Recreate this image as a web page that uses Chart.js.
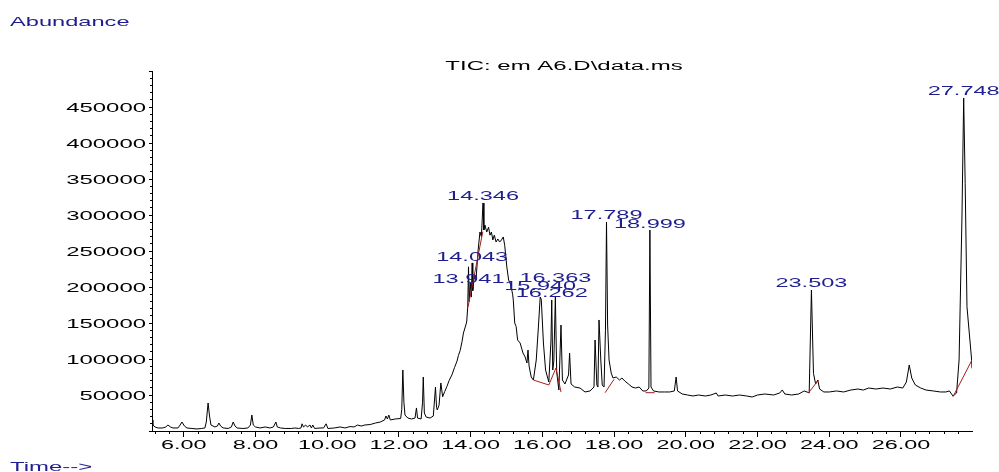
<!DOCTYPE html>
<html>
<head>
<meta charset="utf-8">
<title>TIC: em A6.D\data.ms</title>
<script src="https://cdn.jsdelivr.net/npm/chart.js@4.4.1/dist/chart.umd.min.js"></script>
<style>
  html, body { margin: 0; padding: 0; background: #fff; }
  canvas { display: block; }
</style>
</head>
<body>
<canvas id="tic" width="999" height="472"></canvas>
<script>
// ── DATA ───────────────────────────────────────
// retention time (min) / abundance
const traceTimes = [
  5.116, 5.14, 5.20, 5.28, 5.42, 5.50, 5.56, 5.63, 5.70, 5.84, 5.90, 5.95, 6.02, 6.09, 6.23, 6.37,
  6.50, 6.59, 6.63, 6.68, 6.72, 6.76, 6.87, 6.94, 6.98, 7.03, 7.10, 7.24, 7.33, 7.38, 7.43, 7.49,
  7.65, 7.79, 7.86, 7.90, 7.94, 8.00, 8.13, 8.27, 8.41, 8.50, 8.57, 8.61, 8.70, 8.83, 9.00, 9.10,
  9.20, 9.27, 9.30, 9.34, 9.40, 9.45, 9.52, 9.56, 9.60, 9.65, 9.80, 9.90, 9.97, 10.02, 10.20, 10.36,
  10.50, 10.64, 10.75, 10.85, 10.95, 11.05, 11.20, 11.35, 11.48, 11.60, 11.64, 11.68, 11.72, 11.76, 11.90, 12.05,
  12.08, 12.11, 12.14, 12.17, 12.25, 12.35, 12.45, 12.49, 12.52, 12.62, 12.66, 12.68, 12.71, 12.76, 12.87, 12.96,
  13.02, 13.05, 13.07, 13.12, 13.17, 13.22, 13.28, 13.34, 13.40, 13.48, 13.55, 13.62, 13.66, 13.71, 13.76, 13.80,
  13.85, 13.89, 13.92, 13.941, 13.96, 13.99, 14.02, 14.043, 14.06, 14.10, 14.15, 14.21, 14.26, 14.30, 14.346, 14.37,
  14.40, 14.45, 14.50, 14.54, 14.58, 14.62, 14.66, 14.71, 14.76, 14.81, 14.86, 14.91, 14.95, 15.01, 15.06, 15.12,
  15.17, 15.19, 15.23, 15.27, 15.31, 15.38, 15.46, 15.52, 15.57, 15.60, 15.63, 15.69, 15.75, 15.83, 15.89, 15.940,
  15.97, 16.03, 16.09, 16.18, 16.24, 16.262, 16.29, 16.32, 16.363, 16.40, 16.46, 16.52, 16.56, 16.63, 16.73, 16.76,
  16.80, 16.90, 17.05, 17.19, 17.33, 17.44, 17.47, 17.52, 17.55, 17.58, 17.63, 17.67, 17.72, 17.76, 17.789, 17.82,
  17.86, 17.92, 17.97, 18.06, 18.15, 18.22, 18.30, 18.40, 18.50, 18.60, 18.70, 18.80, 18.90, 18.97, 18.999, 19.03,
  19.10, 19.25, 19.40, 19.55, 19.68, 19.73, 19.77, 19.90, 20.05, 20.20, 20.35, 20.55, 20.70, 20.85, 20.90, 21.10,
  21.30, 21.50, 21.70, 21.85, 22.00, 22.20, 22.45, 22.62, 22.69, 22.76, 22.95, 23.15, 23.30, 23.38, 23.44, 23.503,
  23.56, 23.62, 23.68, 23.73, 23.85, 24.00, 24.20, 24.40, 24.60, 24.80, 24.95, 25.10, 25.30, 25.50, 25.70, 25.90,
  26.05, 26.15, 26.23, 26.30, 26.40, 26.55, 26.70, 26.90, 27.10, 27.25, 27.35, 27.45, 27.55, 27.62, 27.70, 27.748,
  27.79, 27.84, 27.97, 27.98
];
const traceAbund = [
  15300, 8300, 5600, 4200, 4200, 5600, 8300, 5600, 4200, 4200, 8300, 12500, 6900, 4200, 3500, 2800,
  3500, 4200, 12500, 38900, 20800, 8300, 5600, 6900, 11100, 6900, 4200, 3500, 5600, 12500, 6900, 4200,
  3500, 4200, 8300, 22200, 8300, 5600, 4200, 5600, 4200, 5600, 12500, 5600, 4200, 3500, 3500, 4200,
  3500, 4200, 10000, 5600, 8300, 5600, 8300, 4200, 8300, 3500, 4200, 4200, 10000, 3500, 4200, 5600,
  4200, 6200, 5600, 8300, 6900, 8300, 9000, 11100, 12500, 15300, 20800, 16700, 22200, 15300, 16700, 17400,
  30000, 84700, 40000, 22200, 18000, 16700, 18000, 32000, 18000, 16700, 40000, 75000, 25000, 19400, 18000, 20800,
  61100, 33000, 29200, 36000, 66700, 47600, 55000, 62000, 70000, 78000, 88000, 97000, 105000, 112000, 124000, 136100,
  144400, 151400, 172200, 228000, 180000, 205600, 186000, 233400, 195000, 215000, 209700, 251400, 276400, 270000, 316700, 279200,
  286000, 276400, 283000, 272000, 276400, 265300, 272000, 262500, 266700, 262500, 265300, 269500, 258000, 227800, 209700, 202800,
  190000, 182000, 150000, 145000, 126400, 122200, 108300, 102800, 94400, 112500, 90300, 75000, 70800, 98600, 144400, 186100,
  183000, 122200, 84700, 68000, 125000, 182000, 84700, 97000, 186100, 81900, 57000, 147200, 70800, 65300, 77800, 108300,
  65300, 61100, 59700, 54200, 55600, 61100, 126400, 63900, 61100, 154200, 98600, 63900, 61100, 140000, 290300, 147200,
  98600, 80500, 73600, 75000, 70800, 73600, 69400, 65300, 61100, 59700, 61100, 55600, 55600, 59700, 279200, 61100,
  55600, 54200, 54200, 54200, 55600, 75000, 55600, 51400, 50000, 48600, 50000, 48600, 50000, 52800, 48600, 50000,
  48600, 50000, 48600, 47200, 50000, 51400, 50000, 52800, 57000, 51400, 50000, 51400, 55600, 54200, 52800, 195800,
  80000, 65300, 70800, 58300, 54200, 54200, 55600, 54200, 56900, 58300, 56900, 59700, 58300, 59700, 58300, 61100,
  59700, 68000, 91700, 73600, 63900, 59700, 56900, 55600, 54200, 54200, 55600, 48600, 52800, 98600, 297200, 462500,
  344000, 172600, 98600, 87000
];

// labelled peaks
const peakTimes = [13.941, 14.043, 14.346, 15.940, 16.262, 16.363, 17.789, 18.999, 23.503, 27.748];
// label nudge in px (keeps overlapping labels apart, as in the print)
const peakLabelShift = [19, 1, 0, -4, 0, -12, 0, 1, 0, 0];

// integration baselines (red), one list per segment
const baseTimes = [
  [13.93, 14.34],
  [15.75, 16.18, 16.38, 16.52],
  [17.75, 18.00],
  [18.88, 19.13],
  [23.42, 23.70],
  [27.45, 27.98]
];
const baseAbund = [
  [172600, 276800],
  [70800, 63900, 87500, 54200],
  [53200, 71800],
  [53200, 53200],
  [52800, 70800],
  [47600, 98600]
];

// axes
const timeMin = 5.116;
const timeMax = 27.98;
const abundMax = 500000;
const timeLabelMin = 6;
const timeLabelMax = 26;

// ── STYLE ──────────────────────────────────────
const FONT = '"Liberation Sans", Arial, sans-serif';
const BLUE = '#1e1e90';
const RED = '#a31f1f';

// stretched text, like the ChemStation print
function wideText(ctx, str, x, y, align, size, sx, color) {
  ctx.save();
  ctx.font = size + 'px ' + FONT;
  ctx.fillStyle = color;
  ctx.textAlign = 'left';
  ctx.textBaseline = 'alphabetic';
  const w = ctx.measureText(str).width * sx;
  const x0 = align === 'center' ? x - w / 2 : align === 'right' ? x - w : x;
  ctx.translate(x0, y);
  ctx.scale(sx, 1);
  ctx.fillText(str, 0, 0);
  ctx.restore();
}

// ── TEXT PLUGIN ────────────────────────────────
const textPlugin = {
  id: 'ticText',
  afterDraw(chart) {
    const ctx = chart.ctx;
    const xs = chart.scales.x;
    const ys = chart.scales.y;

    ys.ticks.forEach(t => {
      if (t.value <= 0 || t.value >= abundMax) return;
      wideText(ctx, String(t.value), 146, ys.getPixelForValue(t.value) + 4.7, 'right', 13, 1.84, '#000');
    });
    xs.ticks.forEach(t => {
      if (t.value < timeLabelMin || t.value > timeLabelMax) return;
      wideText(ctx, t.value.toFixed(2), xs.getPixelForValue(t.value), 448.5, 'center', 13, 1.8, '#000');
    });

    wideText(ctx, 'TIC: em A6.D\\data.ms', 564, 69.5, 'center', 12.5, 1.92, '#000');
    wideText(ctx, 'Abundance', 10, 26, 'left', 13.5, 1.75, BLUE);
    wideText(ctx, 'Time-->', 10, 471, 'left', 13, 1.84, BLUE);

    peakTimes.forEach((pt, i) => {
      const idx = traceTimes.indexOf(pt);
      const top = ys.getPixelForValue(traceAbund[idx]);
      wideText(ctx, pt.toFixed(3), xs.getPixelForValue(pt), top - 3 + peakLabelShift[i], 'center', 13, 1.81, BLUE);
    });
  }
};

// ── CHART ──────────────────────────────────────
const tracePoints = traceTimes.map((t, i) => ({ x: t, y: traceAbund[i] }));
const baseSets = baseTimes.map((seg, i) => ({
  data: seg.map((t, j) => ({ x: t, y: baseAbund[i][j] })),
  borderColor: RED,
  borderWidth: 1,
  pointRadius: 0,
  tension: 0,
  xAxisID: 'x',
  yAxisID: 'y'
}));

const tickGrid = (len) => ({ drawOnChartArea: false, drawTicks: true, tickLength: len, color: '#000', lineWidth: 1 });

new Chart(document.getElementById('tic'), {
  type: 'line',
  data: {
    datasets: [
      ...baseSets,
      {
        data: tracePoints,
        borderColor: '#000',
        borderWidth: 1,
        pointRadius: 0,
        tension: 0,
        xAxisID: 'x',
        yAxisID: 'y'
      }
    ]
  },
  options: {
    responsive: false,
    animation: false,
    devicePixelRatio: 1,
    parsing: true,
    layout: { padding: { left: 0, right: 27, top: 71, bottom: 41 } },
    plugins: { legend: { display: false }, tooltip: { enabled: false } },
    scales: {
      x: {
        type: 'linear', position: 'bottom', min: timeMin, max: timeMax, weight: 1,
        ticks: { stepSize: 2, display: false, includeBounds: false, maxTicksLimit: 1000 },
        grid: tickGrid(6),
        border: { display: true, color: '#000', width: 1 },
        afterFit(s) { s.height = 0; }
      },
      xMinor: {
        type: 'linear', position: 'bottom', min: timeMin, max: timeMax, weight: 0,
        ticks: { stepSize: 0.4, display: false, includeBounds: false, maxTicksLimit: 1000 },
        grid: tickGrid(3),
        border: { display: false },
        afterFit(s) { s.height = 0; }
      },
      y: {
        type: 'linear', position: 'left', min: 0, max: abundMax, weight: 1,
        ticks: { stepSize: 50000, display: false, maxTicksLimit: 1000 },
        grid: tickGrid(3),
        border: { display: true, color: '#000', width: 1 },
        afterFit(s) { s.width = 152; }
      },
      yMinor: {
        type: 'linear', position: 'left', min: 0, max: abundMax, weight: 0,
        ticks: { stepSize: 10000, display: false, maxTicksLimit: 1000 },
        grid: tickGrid(2),
        border: { display: false },
        afterFit(s) { s.width = 0; }
      }
    }
  },
  plugins: [textPlugin]
});
</script>
</body>
</html>
